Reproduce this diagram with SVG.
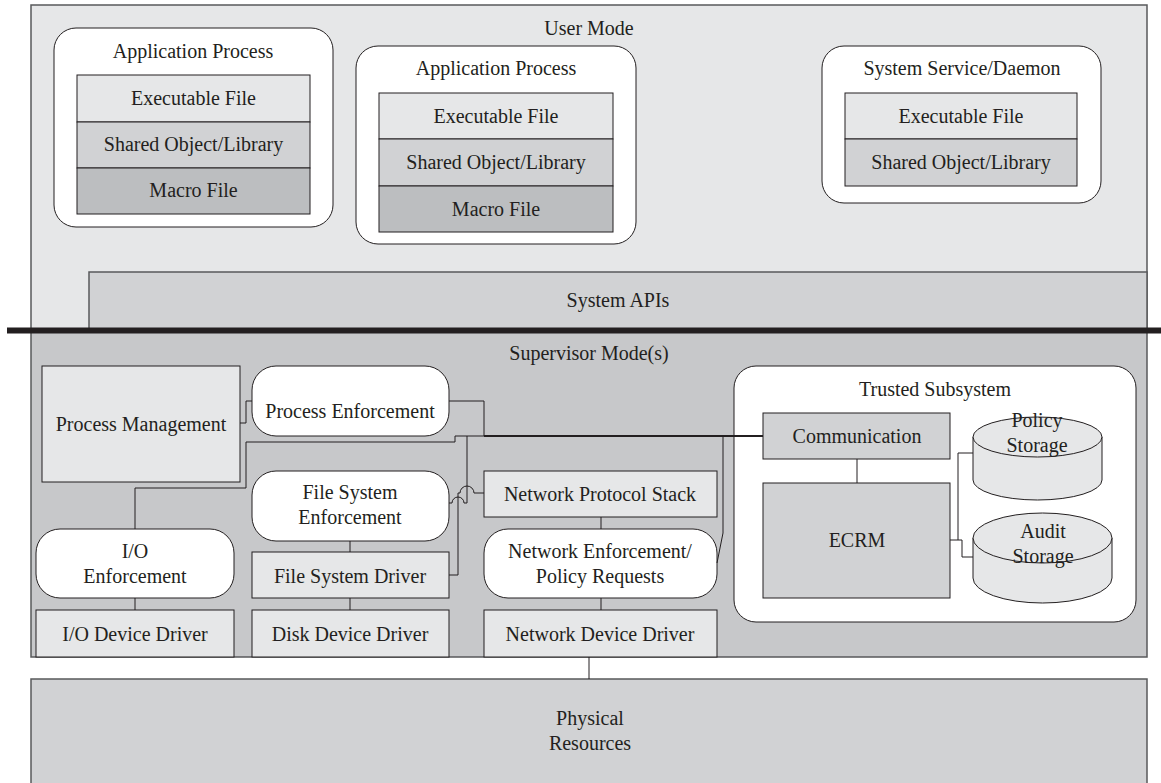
<svg xmlns="http://www.w3.org/2000/svg" width="1161" height="783" viewBox="0 0 1161 783">
<style>
text{font-family:"Liberation Serif","Times New Roman",serif;font-size:20px;fill:#231f20;text-anchor:middle}
.panel{stroke:#58595b;stroke-width:1.5}
.box{stroke:#231f20;stroke-width:1}
.l1{fill:#e6e7e8}.l2{fill:#d1d2d4}.l3{fill:#bcbec0}.w{fill:#fff}
.c{fill:none;stroke:#231f20;stroke-width:1}
.trunk{fill:none;stroke:#231f20;stroke-width:2}
</style>
<rect x="0" y="0" width="1161" height="783" fill="#fff"/>
<g id="user-mode">
<rect class="panel l1" x="31" y="5" width="1116" height="326"/>
<text x="589" y="35">User Mode</text>
</g>
<g id="app-process-1">
<rect class="box w" x="54" y="28" width="279" height="199" rx="22"/>
<text x="193" y="58">Application Process</text>
<rect class="box l1" x="77" y="75" width="233" height="47"/>
<rect class="box l2" x="77" y="122" width="233" height="46"/>
<rect class="box l3" x="77" y="168" width="233" height="46"/>
<text x="193.5" y="105">Executable File</text>
<text x="193.5" y="151">Shared Object/Library</text>
<text x="193.5" y="197">Macro File</text>
</g>
<g id="app-process-2">
<rect class="box w" x="356" y="46" width="280" height="198" rx="22"/>
<text x="496" y="75">Application Process</text>
<rect class="box l1" x="379" y="93" width="234" height="46"/>
<rect class="box l2" x="379" y="139" width="234" height="47"/>
<rect class="box l3" x="379" y="186" width="234" height="46"/>
<text x="496" y="123">Executable File</text>
<text x="496" y="169">Shared Object/Library</text>
<text x="496" y="216">Macro File</text>
</g>
<g id="system-service">
<rect class="box w" x="822" y="46" width="279" height="157" rx="22"/>
<text x="962" y="75">System Service/Daemon</text>
<rect class="box l1" x="845" y="93" width="232" height="46"/>
<rect class="box l2" x="845" y="139" width="232" height="47"/>
<text x="961" y="123">Executable File</text>
<text x="961" y="169">Shared Object/Library</text>
</g>
<g id="system-apis">
<rect class="panel l2" x="89" y="272" width="1058" height="58"/>
<text x="618" y="307">System APIs</text>
</g>
<g id="supervisor-mode">
<rect class="panel" fill="#c7c8ca" x="31" y="331" width="1116" height="326"/>
<text x="589" y="360">Supervisor Mode(s)</text>
</g>
<g id="mode-boundary">
<line x1="7" y1="330.5" x2="1161" y2="330.5" stroke="#231f20" stroke-width="6"/>
</g>
<g id="process-management">
<rect class="box l1" x="42" y="366" width="198" height="116"/>
<text x="141" y="431">Process Management</text>
</g>
<g id="process-enforcement">
<rect class="box w" x="252" y="366" width="197" height="70" rx="24"/>
<text x="350" y="418">Process Enforcement</text>
</g>
<g id="fs-enforcement">
<rect class="box w" x="252" y="471" width="197" height="70" rx="24"/>
<text x="350" y="499">File System</text>
<text x="350" y="524">Enforcement</text>
</g>
<g id="io-enforcement">
<rect class="box w" x="36" y="529" width="198" height="69" rx="24"/>
<text x="135" y="558">I/O</text>
<text x="135" y="583">Enforcement</text>
</g>
<g id="fs-driver">
<rect class="box l1" x="252" y="552" width="197" height="46"/>
<text x="350" y="583">File System Driver</text>
</g>
<g id="io-device-driver">
<rect class="box l1" x="36" y="610" width="198" height="47"/>
<text x="135" y="641">I/O Device Driver</text>
</g>
<g id="disk-device-driver">
<rect class="box l1" x="252" y="610" width="197" height="47"/>
<text x="350" y="641">Disk Device Driver</text>
</g>
<g id="network-protocol-stack">
<rect class="box l1" x="484" y="471" width="233" height="46"/>
<text x="600" y="501">Network Protocol Stack</text>
</g>
<g id="network-enforcement">
<rect class="box w" x="484" y="529" width="233" height="69" rx="24"/>
<text x="600" y="558">Network Enforcement/</text>
<text x="600" y="583">Policy Requests</text>
</g>
<g id="network-device-driver">
<rect class="box l1" x="484" y="610" width="233" height="47"/>
<text x="600" y="641">Network Device Driver</text>
</g>
<g id="trusted-subsystem">
<rect class="box w" x="734" y="366" width="402" height="256" rx="22"/>
<text x="935" y="396">Trusted Subsystem</text>
</g>
<g id="communication">
<rect class="box l2" x="763" y="413" width="187" height="46"/>
<text x="857" y="443">Communication</text>
</g>
<g id="ecrm">
<rect class="box l2" x="763" y="483" width="187" height="115"/>
<text x="857" y="547">ECRM</text>
</g>
<g id="policy-storage">
<path class="box l1" d="M973,437 V480 A64.5,20 0 0 0 1102,480 V437 Z"/>
<ellipse class="box l1" cx="1037.5" cy="437" rx="64.5" ry="20"/>
<text x="1037" y="427">Policy</text>
<text x="1037" y="452">Storage</text>
</g>
<g id="audit-storage">
<path class="box l1" d="M973,538 V578 A69.5,25 0 0 0 1112,578 V538 Z"/>
<ellipse class="box l1" cx="1042.5" cy="538" rx="69.5" ry="25"/>
<text x="1043" y="538">Audit</text>
<text x="1043" y="563">Storage</text>
</g>
<g id="physical-resources">
<rect class="panel l2" x="31" y="679" width="1116" height="110"/>
<text x="590" y="725">Physical</text>
<text x="590" y="750">Resources</text>
</g>
<g id="connectors">
<path class="c" d="M240,423 H246 V401 H252"/>
<path class="c" d="M449,401 H484 V436"/>
<path class="c" d="M135,529 V488 H246 V442 H455 V436 H484"/>
<path class="trunk" d="M484,436 H763"/>
<path class="c" d="M449,503 H452 A6,6 0 0 1 464,503 H467 V436"/>
<path class="c" d="M449,575 H458 V493 H460 A7,7 0 0 1 474,493 H484"/>
<path class="c" d="M717,563 L723,533 V436"/>
<path class="c" d="M601,517 V529"/>
<path class="c" d="M601,598 V610"/>
<path class="c" d="M135,598 V610"/>
<path class="c" d="M350,541 V552"/>
<path class="c" d="M350,598 V610"/>
<path class="c" d="M857,459 V483"/>
<path class="c" d="M950,540 H958 V453 H973"/>
<path class="c" d="M958,540 H962 V557 H973"/>
<path class="c" d="M589,657 V679"/>
</g>
</svg>
